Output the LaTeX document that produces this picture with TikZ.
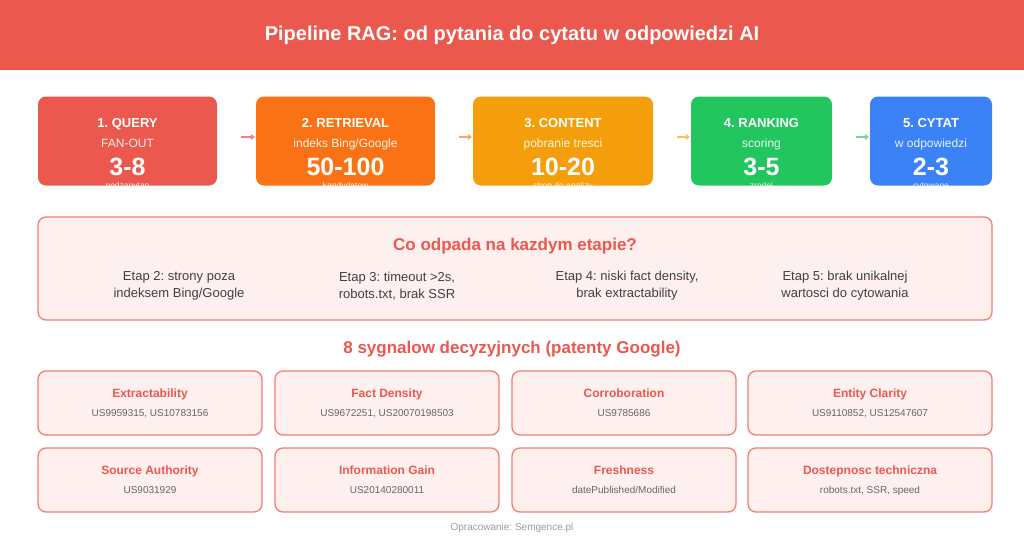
\documentclass[tikz,border=0pt]{standalone}
\usepackage{fontspec}
\setmainfont{Liberation Sans}
\usetikzlibrary{arrows.meta}
\definecolor{cRed}{HTML}{EA584E}
\definecolor{cOrange}{HTML}{F97316}
\definecolor{cAmber}{HTML}{F59E0B}
\definecolor{cGreen}{HTML}{22C55E}
\definecolor{cBlue}{HTML}{3B82F6}
\definecolor{cPink}{HTML}{FEF0EF}
\definecolor{cEdge}{HTML}{F47C72}
\definecolor{cDark}{HTML}{404040}
\definecolor{cGray}{HTML}{666666}
\definecolor{cFoot}{HTML}{9A9A9A}
\newcommand{\fs}[1]{\fontsize{#1}{#1}\selectfont}
\frenchspacing
\tikzset{
  line/.style={text height=#1,text depth=0pt},
  stage/.style={rectangle,rounded corners=8pt,inner sep=0pt,minimum height=89pt},
  stitle/.style={line=9.4pt,text=white,font=\bfseries\fs{13}},
  ssub/.style={line=8.6pt,text=white,opacity=.9,font=\fs{12}},
  snum/.style={line=18pt,text=white,font=\bfseries\fs{25}},
  snote/.style={text=white,opacity=.85,font=\fs{8.5},anchor=base},
  flow/.style={-{Triangle[length=4pt,width=6pt]},line width=1.6pt,shorten <=24pt,shorten >=1pt},
  panel/.style={rectangle,rounded corners=8pt,draw=cEdge,line width=1.3pt,fill=cPink,inner sep=0pt},
  drop/.style={text=cDark,align=center,font=\fontsize{13}{17}\selectfont},
  sigbox/.style={panel,minimum height=64pt},
  sigtitle/.style={line=8.6pt,text=cRed,font=\bfseries\fs{12}},
  signum/.style={line=7.2pt,text=cGray,font=\fs{10}},
  head/.style={line=12.2pt,text=cRed,font=\bfseries\fs{17}}
}
\begin{document}
\begin{tikzpicture}[x=1pt,y=-1pt]
    \useasboundingbox[fill=white] (0,0) rectangle (1024,538);

    \node[fill=cRed,minimum width=1024pt,minimum height=70pt,inner sep=0pt,
          text=white,font=\bfseries\fs{20}](bar) at (512,35)
          {Pipeline RAG: od pytania do cytatu w odpowiedzi AI};

    % etapy pipeline
    \node[stage,fill=cRed,minimum width=179pt](b1) at (127.5,141) {};
    \node[stage,fill=cOrange,minimum width=179pt](b2) at (345.5,141) {};
    \node[stage,fill=cAmber,minimum width=180pt](b3) at (563,141) {};
    \node[stage,fill=cGreen,minimum width=141pt](b4) at (761.5,141) {};
    \node[stage,fill=cBlue,minimum width=122pt](b5) at (931,141) {};

    \node[stitle] at (127.5,123) {1. QUERY};
    \node[ssub] at (127.5,143) {FAN-OUT};
    \node[snum] at (127.5,166) {3-8};
    \node[stitle] at (345.5,123) {2. RETRIEVAL};
    \node[ssub] at (345.5,143) {indeks Bing/Google};
    \node[snum] at (345.5,166) {50-100};
    \node[stitle] at (563,123) {3. CONTENT};
    \node[ssub] at (563,143) {pobranie tresci};
    \node[snum] at (563,166) {10-20};
    \node[stitle] at (761.5,123) {4. RANKING};
    \node[ssub] at (761.5,143) {scoring};
    \node[snum] at (761.5,166) {3-5};
    \node[stitle] at (931,123) {5. CYTAT};
    \node[ssub] at (931,143) {w odpowiedzi};
    \node[snum] at (931,166) {2-3};

    \begin{scope}
    \clip[rounded corners=8pt] (b1.south west) rectangle (b1.north east)
         (b2.south west) rectangle (b2.north east)
         (b3.south west) rectangle (b3.north east)
         (b4.south west) rectangle (b4.north east)
         (b5.south west) rectangle (b5.north east);
    \node[snote] at (127.5,188.5) {podzapytan};
    \node[snote] at (345.5,188.5) {kandydatow};
    \node[snote] at (563,188.5) {stron do analizy};
    \node[snote] at (761.5,188.5) {zrodel};
    \node[snote] at (931,188.5) {cytowane};
    \end{scope}

    \path ([yshift=4pt]b1.east) edge[flow,draw=cRed!75] ([yshift=4pt]b2.west)
    ([yshift=4pt]b2.east) edge[flow,draw=cOrange!65] ([yshift=4pt]b3.west)
    ([yshift=4pt]b3.east) edge[flow,draw=cAmber!65] ([yshift=4pt]b4.west)
    ([yshift=4pt]b4.east) edge[flow,draw=cGreen!65] ([yshift=4pt]b5.west);

    % co odpada
    \node[panel,minimum width=954pt,minimum height=103pt](lost) at (515,268.5) {};
    \node[head] at (515,244) {Co odpada na kazdym etapie?};
    \node[drop] at (179,286) {Etap 2: strony poza\\indeksem Bing/Google};
    \node[drop] at (397,286) {Etap 3: timeout >2s,\\robots.txt, brak SSR};
    \node[drop] at (627,286) {Etap 4: niski fact density,\\brak extractability};
    \node[drop] at (845,286) {Etap 5: brak unikalnej\\wartosci do cytowania};

    % sygnaly
    \node[head] at (512,347) {8 sygnalow decyzyjnych (patenty Google)};
    \node[sigbox,minimum width=224pt](s1) at (150,403) {};
    \node[sigbox,minimum width=224pt](s2) at (387,403) {};
    \node[sigbox,minimum width=224pt](s3) at (624,403) {};
    \node[sigbox,minimum width=244pt](s4) at (870,403) {};
    \node[sigbox,minimum width=224pt](s5) at (150,480) {};
    \node[sigbox,minimum width=224pt](s6) at (387,480) {};
    \node[sigbox,minimum width=224pt](s7) at (624,480) {};
    \node[sigbox,minimum width=244pt](s8) at (870,480) {};

    \node[sigtitle] at (150,393) {Extractability};
    \node[signum] at (150,413) {US9959315, US10783156};
    \node[sigtitle] at (387,393) {Fact Density};
    \node[signum] at (387,413) {US9672251, US20070198503};
    \node[sigtitle] at (624,393) {Corroboration};
    \node[signum] at (624,413) {US9785686};
    \node[sigtitle] at (870,393) {Entity Clarity};
    \node[signum] at (870,413) {US9110852, US12547607};
    \node[sigtitle] at (150,470) {Source Authority};
    \node[signum] at (150,490) {US9031929};
    \node[sigtitle] at (387,470) {Information Gain};
    \node[signum] at (387,490) {US20140280011};
    \node[sigtitle] at (624,470) {Freshness};
    \node[signum] at (624,490) {datePublished/Modified};
    \node[sigtitle] at (870,470) {Dostepnosc techniczna};
    \node[signum] at (870,490) {robots.txt, SSR, speed};

    \node[text=cFoot,font=\fs{10}](foot) at (512,528) {Opracowanie: Semgence.pl};

\end{tikzpicture}
\end{document}
